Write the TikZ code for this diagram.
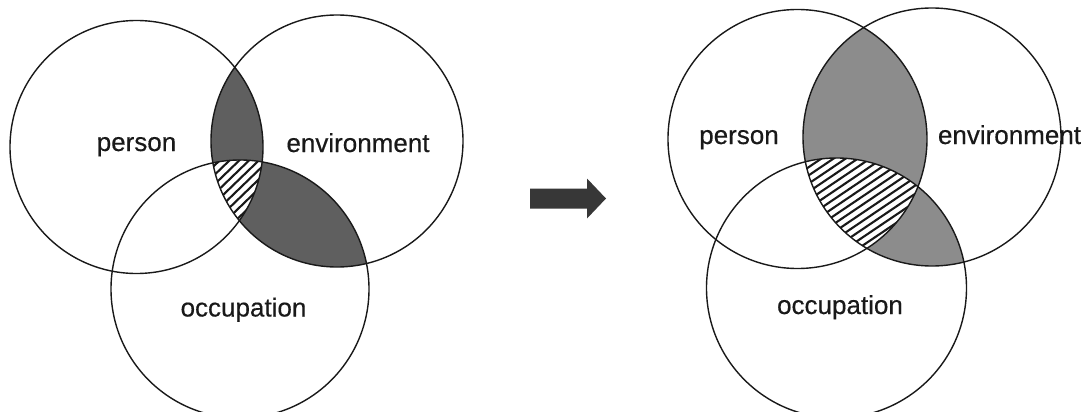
\documentclass[tikz,border=0pt]{standalone}
\usepackage{fontspec}
\setmainfont{Liberation Sans}
\newfontfamily\lblfont{Liberation Sans}[FakeBold=0.4,BoldFont=Liberation Sans]
\definecolor{ink}{RGB}{25,25,25}
\definecolor{shadeL}{RGB}{95,95,95}
\definecolor{shadeR}{RGB}{140,140,140}
\definecolor{arrowc}{RGB}{55,55,55}
\begin{document}
\begin{tikzpicture}[x=1pt,y=-1pt,
  ring/.style={line width=1.4pt, draw=ink},
  lbl/.style={font=\lblfont\fontsize{26}{30}\selectfont, text=ink, inner sep=0pt, anchor=base},
  hatchline/.style={line width=2.1pt, draw=ink}]
\useasboundingbox[fill=white] (0,0) rectangle (1087,412);

% ---------------- left diagram ----------------
\coordinate (P1) at (136.5,147);
\coordinate (E1) at (337,141);
\coordinate (O1) at (240,289);
\begin{scope}
  \clip (P1) circle (126.5pt);
  \fill[shadeL] (E1) circle (126pt);
\end{scope}
\begin{scope}
  \clip (E1) circle (126pt);
  \fill[shadeL] (O1) circle (129pt);
\end{scope}
\begin{scope}
  \clip (P1) circle (126.5pt);
  \clip (E1) circle (126pt);
  \clip (O1) circle (129pt);
  \fill[white] (0,0) rectangle (1087,412);
  \foreach \k in {-20,...,20}{
    \draw[hatchline] ({238+\k*6.8*sin(44)-90*cos(44)},{190+\k*6.8*cos(44)+90*sin(44)})
      -- ({238+\k*6.8*sin(44)+90*cos(44)},{190+\k*6.8*cos(44)-90*sin(44)});
  }
\end{scope}
\draw[ring] (P1) circle (126.5pt);
\draw[ring] (E1) circle (126pt);
\draw[ring] (O1) circle (129pt);
\node[lbl] (personL) at (136.5,151) {person};
\node[lbl] (envL) at (358,152) {environment};
\node[lbl] (occL) at (243.5,316.5) {occupation};

% ---------------- arrow ----------------
\fill[arrowc] (530,188.5) -- (587,188.5) -- (587,178.5) -- (606,198.5)
  -- (587,218.5) -- (587,208.5) -- (530,208.5) -- cycle;

% ---------------- right diagram ----------------
\coordinate (P2) at (797.5,139);
\coordinate (E2) at (932,137);
\coordinate (O2) at (836.5,288);
\begin{scope}
  \clip (P2) circle (129.5pt);
  \fill[shadeR] (E2) circle (129pt);
\end{scope}
\begin{scope}
  \clip (E2) circle (129pt);
  \fill[shadeR] (O2) circle (130pt);
\end{scope}
\begin{scope}
  \clip (P2) circle (129.5pt);
  \clip (E2) circle (129pt);
  \clip (O2) circle (130pt);
  \fill[white] (0,0) rectangle (1087,412);
  \foreach \k in {-30,...,30}{
    \draw[hatchline] ({862+\k*6.8*sin(34)-140*cos(34)},{205+\k*6.8*cos(34)+140*sin(34)})
      -- ({862+\k*6.8*sin(34)+140*cos(34)},{205+\k*6.8*cos(34)-140*sin(34)});
  }
\end{scope}
\draw[ring] (P2) circle (129.5pt);
\draw[ring] (E2) circle (129pt);
\draw[ring] (O2) circle (130pt);
\node[lbl] (personR) at (739,144) {person};
\node[lbl] (envR) at (1009.5,144) {environment};
\node[lbl] (occR) at (840,314) {occupation};
\end{tikzpicture}
\end{document}
